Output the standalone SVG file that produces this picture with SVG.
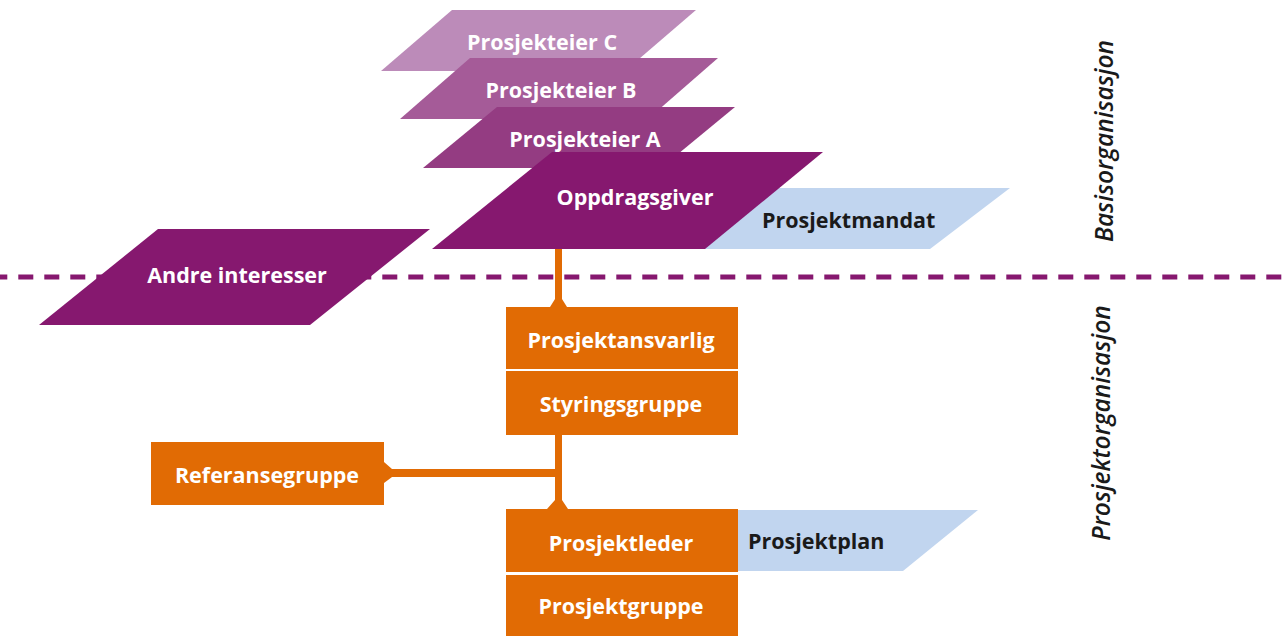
<svg xmlns="http://www.w3.org/2000/svg" width="1285" height="636" viewBox="0 0 1285 636">
<style>
.t{font-family:"Open Sans","Liberation Sans",sans-serif;font-weight:bold;font-size:21.5px;text-anchor:middle;fill:#fff}
.d{fill:#1a1a1a;text-anchor:start}
.v{font-family:"Open Sans","Liberation Sans",sans-serif;font-style:italic;font-weight:600;font-size:24.5px;text-anchor:middle;fill:#1a1a1a}
.o{fill:#e16b04}
.b{fill:#c1d5ef}
.p{fill:#86186f}
</style>
<rect width="1285" height="636" fill="#fff"/>
<g id="prosjekteier-c"><polygon points="452,10 696,10 625,71 381,71" fill="#bc8bb9"/><text class="t" x="542" y="50">Prosjekteier C</text></g>
<g id="prosjekteier-b"><polygon points="470,58 718,58 648,119 400,119" fill="#a55b98"/><text class="t" x="561" y="98">Prosjekteier B</text></g>
<g id="prosjekteier-a"><polygon points="497,107 735,107 661,168 423,168" fill="#943c82"/><text class="t" x="585" y="147">Prosjekteier A</text></g>
<g id="prosjektmandat"><polygon class="b" points="700,188 1010,188 930,249 640,249"/><text class="t d" x="762" y="228">Prosjektmandat</text></g>
<g id="oppdragsgiver"><polygon class="p" points="552,152 823,152 705,249 432,249"/><text class="t" x="635" y="205">Oppdragsgiver</text></g>
<g id="connectors">
<polygon class="o" points="555,249 562,249 562,299 567,307 550,307 555,299"/>
<polygon class="o" points="555,435 562,435 562,500 568,509 547,509 555,500"/>
<polygon class="o" points="384,462 392,469 555,469 555,477 392,477 384,483"/>
</g>
<g id="divider"><line x1="0" y1="277" x2="1285" y2="277" stroke="#86186f" stroke-width="5" stroke-dasharray="15,11" stroke-dashoffset="7.7"/></g>
<g id="andre-interesser"><polygon class="p" points="158,229 430,229 310,325 39,325"/><text class="t" x="237" y="283">Andre interesser</text></g>
<g id="prosjektansvarlig"><rect class="o" x="506" y="307" width="232" height="62"/><text class="t" x="621" y="348">Prosjektansvarlig</text></g>
<g id="styringsgruppe"><rect class="o" x="506" y="371" width="232" height="64"/><text class="t" x="621" y="412">Styringsgruppe</text></g>
<g id="referansegruppe"><rect class="o" x="151" y="442" width="233" height="63"/><text class="t" x="267" y="483">Referansegruppe</text></g>
<g id="prosjektplan"><polygon class="b" points="738,510 978,510 903,571 738,571"/><text class="t d" x="748" y="549">Prosjektplan</text></g>
<g id="prosjektleder"><rect class="o" x="506" y="509" width="232" height="63"/><text class="t" x="621" y="551">Prosjektleder</text></g>
<g id="prosjektgruppe"><rect class="o" x="506" y="575" width="232" height="61"/><text class="t" x="621" y="614">Prosjektgruppe</text></g>
<g id="labels">
<text class="v" transform="translate(1113,141) rotate(-90)">Basisorganisasjon</text>
<text class="v" transform="translate(1110,423) rotate(-90)">Prosjektorganisasjon</text>
</g>
</svg>
